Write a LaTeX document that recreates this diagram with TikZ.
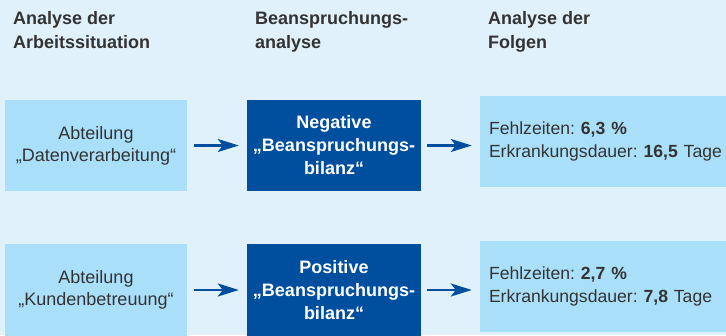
\documentclass[tikz,border=0pt]{standalone}
\usepackage{fontspec}
\setmainfont{Liberation Sans}
\usepackage{xcolor}
\usetikzlibrary{arrows.meta}
\definecolor{bgblue}{HTML}{E0F1FB}
\definecolor{boxblue}{HTML}{AADFF9}
\definecolor{darkblue}{HTML}{004E9E}
\definecolor{textgray}{HTML}{333333}
\frenchspacing
\tikzset{
  head/.style={anchor=north west,align=left,inner sep=0pt,text=textgray,
    font=\bfseries\fontsize{18}{24.5}\selectfont},
  dept/.style={fill=boxblue,minimum width=182pt,minimum height=91pt,align=center,
    text=textgray,font=\fontsize{18}{22}\selectfont},
  balance/.style={fill=darkblue,minimum width=174pt,minimum height=91pt,align=center,
    text=white,font=\bfseries\fontsize{18}{23}\selectfont},
  result/.style={fill=boxblue,minimum width=276pt,minimum height=91pt,inner xsep=9pt,
    text width=258pt,align=left,text=textgray,font=\fontsize{17.6}{23}\selectfont},
  flow/.style={-{Stealth[length=21pt,width=13pt,inset=5pt]},draw=darkblue,line width=2.5pt}
}
\begin{document}
\begin{tikzpicture}[x=1pt,y=1pt]
\useasboundingbox (0,0) rectangle (726,335);
\fill[bgblue] (0,0) rectangle (726,335);
\node[head] (H1) at (13,324) {Analyse der\\Arbeitssituation};
\node[head] (H2) at (255,324) {Beanspruchungs-\\analyse};
\node[head] (H3) at (488,324) {Analyse der\\Folgen};
\node[dept] (A) at (96,189.5) {Abteilung\\„Datenverarbeitung“};
\node[balance] (B) at (334,189.5) {Negative\\„Beanspruchungs-\\bilanz“};
\node[result] (C) at (618,193.5) {Fehlzeiten: \textbf{6,3 \%}\\Erkrankungsdauer: \textbf{16,5} Tage};
\node[dept] (D) at (96,45) {Abteilung\\„Kundenbetreuung“};
\node[balance] (E) at (334,45) {Positive\\„Beanspruchungs-\\bilanz“};
\node[result] (F) at (618,48.5) {Fehlzeiten: \textbf{2,7 \%}\\Erkrankungsdauer: \textbf{7,8} Tage};
\draw[flow,shorten <=7pt,shorten >=8pt] (A) -- (B);
\draw[flow,shorten <=6pt,shorten >=8pt] (B.east) -- (B.east -| C.west);
\draw[flow,shorten <=7pt,shorten >=8pt] (D) -- (E);
\draw[flow,shorten <=6pt,shorten >=8pt] (E.east) -- (E.east -| F.west);
\end{tikzpicture}
\end{document}
